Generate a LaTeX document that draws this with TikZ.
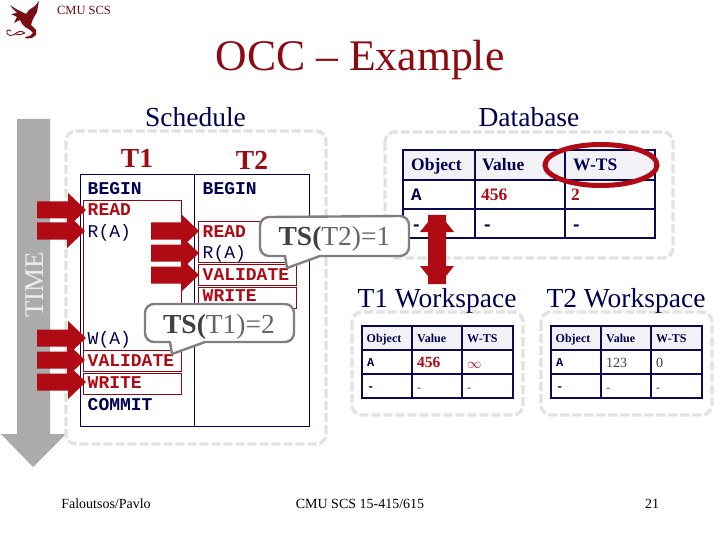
\documentclass[tikz,border=0pt]{standalone}
\usepackage{fontspec}
\setmainfont{Liberation Serif}
\setmonofont{Liberation Mono}
\definecolor{navy}{HTML}{000050}
\definecolor{tabnavy}{HTML}{0A0A55}
\definecolor{crim}{HTML}{B00A14}
\definecolor{maroon}{HTML}{7A0C14}
\definecolor{dashgray}{HTML}{E2E2E2}
\definecolor{headfill}{HTML}{F1F1F6}
\tikzset{
  x=1pt,y=-1pt,
  dashbox/.style={draw=dashgray,line width=3.2pt,dash pattern=on 9pt off 3pt,rounded corners=10pt},
  tabline/.style={draw=tabnavy,line width=1.6pt},
  redbox/.style={draw=crim!80!black,line width=0.7pt,fill=white},
  codeb/.style={font=\fontsize{18}{18}\selectfont\ttfamily\bfseries,anchor=west,text=navy,inner sep=0pt,text height=12pt,text depth=0pt,yshift=0.7pt},
  codered/.style={codeb,text=crim},
  codeplain/.style={codeb,font=\fontsize{18}{18}\selectfont\ttfamily},
  title/.style={font=\fontsize{27.5}{28}\selectfont,text=navy,inner sep=0pt},
  tname/.style={font=\fontsize{27.5}{28}\selectfont\bfseries,text=crim!90!black,inner sep=0pt},
  bigcell/.style={font=\fontsize{17.5}{18}\selectfont\bfseries,text=navy,anchor=west,inner sep=0pt,text height=12pt,text depth=0pt},
  bigmono/.style={bigcell,font=\fontsize{17.5}{18}\selectfont\ttfamily\bfseries},
  smallcell/.style={font=\fontsize{12}{12}\selectfont\bfseries,text=navy,anchor=west,inner sep=0pt,text height=8pt,text depth=0pt},
  smallmono/.style={smallcell,font=\fontsize{12}{12}\selectfont\ttfamily\bfseries},
  smallplain/.style={font=\fontsize{14}{14}\selectfont,text=black!75,anchor=west,inner sep=0pt,text height=10pt,text depth=0pt},
  smalldash/.style={smallplain,font=\fontsize{12}{12}\selectfont},
  callout/.style={draw=black!50,line width=2.4pt,fill=white,line join=round},
  calltext/.style={font=\fontsize{27.5}{28}\selectfont,inner sep=0pt},
  foot/.style={font=\fontsize{14}{14}\selectfont,text=black,inner sep=0pt},
}
\newcommand{\redarrow}[3]{% tail x, tip x, centre y
  \fill[crim] (#1,#3-8.5) -- (#2-18,#3-8.5) -- (#2-18,#3-17) -- (#2,#3) -- (#2-18,#3+17) -- (#2-18,#3+8.5) -- (#1,#3+8.5) -- cycle;}
\newcommand{\minitable}[2]{% left x, top y : three column table 151x72
  \begin{scope}[shift={(#1,#2)}]
    \fill[headfill] (0,0) rectangle (151,24);
    \draw[tabline] (0,0) rectangle (151,72);
    \draw[tabline] (0,24) -- (151,24) (0,48) -- (151,48) (50,0) -- (50,72) (100,0) -- (100,72);
    \node[smallcell] at (4.5,12) {Object};
    \node[smallcell] at (55,12) {Value};
    \node[smallcell] at (105,12) {W-TS};
    \node[smallmono] at (5,36) {A};
    \node[smallmono] at (5,60) {-};
    \node[smalldash] at (55,60) {-};
    \node[smalldash] at (105,60) {-};
  \end{scope}}
\begin{document}
\begin{tikzpicture}
\useasboundingbox (0,0) rectangle (720,540);
\fill[white] (0,0) rectangle (720,540);
% logo
\fill[maroon] (39,1) -- (35,6) -- (29,10) -- (26,14) -- (22,12) -- (16,9) -- (10,5) -- (13,9) -- (17,13) -- (11,14) -- (17,17) -- (14,23) -- (20,20) -- (22,24) -- (25,27) -- (30,30) -- (33,33) -- (30,36) -- (25,37) -- (26,38.5) -- (32,38) -- (36,35) -- (36,30) -- (31,25) -- (33,19) -- (37,12) -- cycle;
\draw[maroon,line width=0.9pt] (25,33) .. controls (21,30) and (17,32) .. (15,34) .. controls (12,36) and (8,36) .. (7,33) .. controls (6,30) and (9,29) .. (11,31) (25,33) .. controls (20,35) and (18,35) .. (15,34);
\node[font=\fontsize{12.5}{13}\selectfont,text=maroon!85!black,inner sep=0pt] (cmu) at (84,10) {CMU SCS};
\node[font=\fontsize{43.7}{44}\selectfont,text=maroon!85!red,inner sep=0pt] (main) at (360,60) {OCC – Example};
% time arrow
\fill[black!33] (17,119) -- (50,119) -- (50,434) -- (66,434) -- (33,467) -- (1,434) -- (17,434) -- cycle;
\node[rotate=90,font=\fontsize{27}{27}\selectfont,text=white!93!black,inner sep=0pt] (time) at (35,285) {TIME};
% dashed boxes
\draw[dashbox] (66,131) rectangle (326,444);
\draw[dashbox] (385,132) rectangle (673,258);
\draw[dashbox] (352,312) rectangle (523,415);
\draw[dashbox] (541,312) rectangle (712,415);
% titles
\node[title] (sched) at (195.5,117) {Schedule};
\node[title] (db) at (529,117) {Database};
\node[tname] (t1) at (137,158) {T1};
\node[tname] (t2) at (252,160) {T2};
\node[title] (w1) at (437,301) {T1 Workspace};
\node[title] (w2) at (626,301) {T2 Workspace};
% schedule table
\draw[draw=navy,line width=0.8pt] (80,174) rectangle (309.5,426) (194.3,174) -- (194.3,426);
\draw[redbox] (83,200) rectangle (181,350);
\draw[redbox] (83,350) rectangle (181,371);
\draw[redbox] (83,373.5) rectangle (181,394.5);
\draw[redbox] (198.5,221.5) rectangle (296,262.5);
\draw[redbox] (198.5,264.5) rectangle (296,285.5);
\draw[redbox] (198.5,287.5) rectangle (296,308);
\node[codeb] (a1) at (87.5,189) {BEGIN};
\node[codered] (a2) at (87.5,210) {READ};
\node[codeplain] (a3) at (87.5,232) {R(A)};
\node[codeplain] (a4) at (87.5,339) {W(A)};
\node[codered] (a5) at (87.5,361) {VALIDATE};
\node[codered] (a6) at (87.5,383) {WRITE};
\node[codeb] (a7) at (87.5,405) {COMMIT};
\node[codeb] (b1) at (202.5,189) {BEGIN};
\node[codered] (b2) at (202.5,232) {READ};
\node[codeplain] (b3) at (202.5,253) {R(A)};
\node[codered] (b4) at (202.5,275) {VALIDATE};
\node[codered] (b5) at (202.5,296.5) {WRITE};
% red arrows
\redarrow{37}{86}{210}
\redarrow{37}{85}{231}
\redarrow{37}{86}{338}
\redarrow{37}{85}{360}
\redarrow{37}{86}{382}
\redarrow{151}{199}{231}
\redarrow{151}{199}{253}
\redarrow{151}{199}{275}
% database table
\fill[headfill] (403,150) rectangle (655,180);
\draw[tabline] (403,150) rectangle (655,238);
\draw[tabline] (403,180) -- (655,180) (403,209) -- (655,209) (475,150) -- (475,238) (565,150) -- (565,238);
\node[bigcell] (d1) at (411,165) {Object};
\node[bigcell] (d2) at (482,165) {Value};
\node[bigcell] (d3) at (573,165) {W-TS};
\node[bigmono] (d4) at (411,195) {A};
\node[bigcell,text=crim] (d5) at (481,195) {456};
\node[bigcell,text=crim] (d6) at (571,195) {2};
\node[bigmono] (d7) at (411,224) {-};
\node[bigmono] (d8) at (482,224) {-};
\node[bigmono] (d9) at (571,224) {-};
\draw[crim,line width=5pt] (601,165) ellipse [x radius=56,y radius=20.5];
% workspace tables
\minitable{362}{326}
\minitable{551}{326}
\node[smallplain,font=\fontsize{15.5}{16}\selectfont\bfseries,text=crim] (v1) at (417,362) {456};
\node[smallplain,text=crim] (v2) at (467,363) {$\infty$};
\node[smallplain] (v3) at (606,362) {123};
\node[smallplain] (v4) at (656,362) {0};
% callouts
\draw[callout] (260,226) arc[start angle=180,end angle=270,radius=9] -- (400,216) arc[start angle=270,end angle=360,radius=9] -- (409,247) arc[start angle=0,end angle=90,radius=9] -- (320,256) -- (287,268) -- (285,256) -- (269,256) arc[start angle=90,end angle=180,radius=9] -- cycle;
\draw[callout] (145,313) arc[start angle=180,end angle=270,radius=9] -- (285,304) arc[start angle=270,end angle=360,radius=9] -- (294,333) arc[start angle=0,end angle=90,radius=9] -- (205,342) -- (172,354) -- (170,342) -- (154,342) arc[start angle=90,end angle=180,radius=9] -- cycle;
\node[calltext] (c1) at (334.5,239) {\textbf{\textcolor{black!75}{TS(}}\textcolor{black!60}{T2)=1}};
\node[calltext] (c2) at (219,327) {\textbf{\textcolor{black!75}{TS(}}\textcolor{black!60}{T1)=2}};
% double arrow
\fill[crim] (428,215) -- (446,215) -- (446,222) -- (454,232) -- (446,232) -- (446,266) -- (454,266) -- (446,276) -- (446,284) -- (428,284) -- (428,276) -- (420,266) -- (428,266) -- (428,232) -- (420,232) -- (428,222) -- cycle;
% footer
\node[foot] (f1) at (106,504) {Faloutsos/Pavlo};
\node[foot] (f2) at (360,504) {CMU SCS 15-415/615};
\node[foot] (f3) at (652,504) {21};
\end{tikzpicture}
\end{document}
